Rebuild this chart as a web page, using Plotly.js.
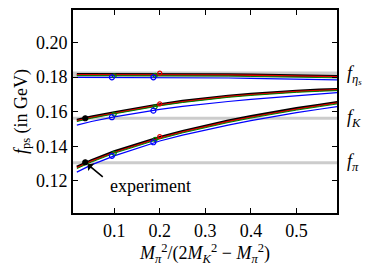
<!DOCTYPE html>
<html><head><meta charset="utf-8">
<script src="https://cdn.plot.ly/plotly-3.0.1.min.js"></script>
<style>html,body{margin:0;padding:0;background:#fff}#chart{width:373px;height:268px}</style>
</head><body><div id="chart"></div>
<script>
// x grid of the fitted curves
const xCurve = [0.018, 0.05, 0.1, 0.15, 0.2, 0.25, 0.3, 0.35, 0.4, 0.45, 0.5, 0.55, 0.59];

// f_pi curves
const piBlack = [0.1280, 0.1318, 0.1369, 0.1412, 0.1452, 0.1487, 0.1518, 0.1547, 0.1573, 0.1597, 0.1619, 0.1639, 0.1655];
const piRed   = [0.1276, 0.1314, 0.1365, 0.1408, 0.1448, 0.1483, 0.1514, 0.1543, 0.1569, 0.1593, 0.1615, 0.1635, 0.1651];
const piGreen = [0.1270, 0.1308, 0.1359, 0.1402, 0.1442, 0.1477, 0.1508, 0.1537, 0.1563, 0.1587, 0.1609, 0.1629, 0.1645];
const piBlue  = [0.1250, 0.1292, 0.1344, 0.1388, 0.1430, 0.1464, 0.1494, 0.1522, 0.1548, 0.1572, 0.1594, 0.1614, 0.1630];

// f_K curves
const kBlack = [0.1551, 0.1570, 0.1595, 0.1620, 0.1642, 0.1661, 0.1677, 0.1691, 0.1702, 0.1712, 0.1720, 0.1726, 0.1730];
const kRed   = [0.1548, 0.1567, 0.1592, 0.1617, 0.1639, 0.1658, 0.1674, 0.1688, 0.1699, 0.1709, 0.1717, 0.1723, 0.1727];
const kGreen = [0.1543, 0.1562, 0.1587, 0.1612, 0.1634, 0.1653, 0.1669, 0.1683, 0.1694, 0.1704, 0.1712, 0.1718, 0.1722];
const kBlue  = [0.1522, 0.1543, 0.1570, 0.1593, 0.1613, 0.1631, 0.1646, 0.1659, 0.1671, 0.1682, 0.1692, 0.1702, 0.1710];

// f_eta_s curves
const eBlack = [0.1817, 0.1817, 0.1818, 0.1818, 0.1818, 0.1817, 0.1816, 0.1815, 0.1813, 0.1811, 0.1809, 0.1807, 0.1805];
const eRed   = [0.1815, 0.1815, 0.1816, 0.1816, 0.1816, 0.1815, 0.1814, 0.1813, 0.1811, 0.1809, 0.1807, 0.1805, 0.1803];
const eGreen = [0.1809, 0.1809, 0.1809, 0.1809, 0.1809, 0.1808, 0.1807, 0.1806, 0.1804, 0.1802, 0.1800, 0.1798, 0.1796];
const eBlue  = [0.1799, 0.1799, 0.1799, 0.1799, 0.1799, 0.1798, 0.1797, 0.1795, 0.1793, 0.1791, 0.1788, 0.1786, 0.1784];

// lattice data points
const xBluePts  = [0.095, 0.186];
const piBluePts = [0.1344, 0.1423];
const kBluePts  = [0.1568, 0.1606];
const eBluePts  = [0.1799, 0.1799];
const xGreenPts  = [0.1, 0.19];
const piGreenPts = [0.1358, 0.1440];
const kGreenPts  = [0.1585, 0.1628];
const eGreenPts  = [0.1808, 0.1810];
const xRedPts  = [0.2];
const piRedPts = [0.1456];
const kRedPts  = [0.1645];
const eRedPts  = [0.1823];

// experiment
const xExp = [0.0365, 0.0365];
const yExp = [0.1307, 0.1562];

// physical values (grey bands) and labels
const bandValues = [0.1304, 0.1562, 0.1815];
const bandLabels = ['<i>f</i><sub><i>π</i></sub>', '<i>f</i><sub><i>K</i></sub>', '<i>f</i><sub><i>η<sub>s</sub></i></sub>'];
const bandWidths = [3, 3, 6];

const xTicks = [0.1, 0.2, 0.3, 0.4, 0.5];
const yTicks = [0.12, 0.14, 0.16, 0.18, 0.20];

const traces = [];
function curve(y, color, w) {
  traces.push({x: xCurve, y: y, mode: 'lines', line: {color: color, width: w}, hoverinfo: 'skip', showlegend: false});
}
[[piBlack, piRed, piGreen, piBlue], [kBlack, kRed, kGreen, kBlue], [eBlack, eRed, eGreen, eBlue]].forEach(g => {
  curve(g[0], '#000000', 2.6);
  curve(g[1], '#e00000', 1.3);
  curve(g[2], '#008000', 1.0);
  curve(g[3], '#0000ff', 1.2);
});
function pts(x, y, color, sym, size) {
  traces.push({x: x, y: y, mode: 'markers', marker: {color: color, symbol: sym, size: size, line: {color: color, width: 1.2}}, showlegend: false});
}
[piGreenPts, kGreenPts, eGreenPts].forEach(y => pts(xGreenPts, y, '#008000', 'circle-open', 4));
[piRedPts, kRedPts, eRedPts].forEach(y => pts(xRedPts, y, '#e00000', 'circle-open', 4));
[piBluePts, kBluePts, eBluePts].forEach(y => pts(xBluePts, y, '#0000ff', 'circle-open', 5));
pts(xExp, yExp, '#000000', 'circle', 5);

const shapes = bandValues.map((v, i) => ({
  type: 'line', xref: 'paper', x0: 0, x1: 1, yref: 'y', y0: v, y1: v,
  line: {color: '#cccccc', width: bandWidths[i]}, layer: 'below'
}));

const serif = 'Liberation Serif, Times New Roman, serif';
const mathFont = {family: serif, size: 18, color: '#000'};
const annotations = bandValues.map((v, i) => ({
  xref: 'paper', x: 1, xanchor: 'left', xshift: 8, yref: 'y', y: v, yanchor: 'middle',
  text: bandLabels[i], showarrow: false, font: mathFont
}));
annotations.push({
  xref: 'x', yref: 'y', x: 0.087, y: 0.1171, xanchor: 'left', yanchor: 'middle',
  text: 'experiment', showarrow: false, font: {family: serif, size: 18, color: '#000'}
});
annotations.push({
  xref: 'x', yref: 'y', x: xExp[0], y: yExp[0], text: '', showarrow: true,
  ax: 19, ay: 16, arrowhead: 1, arrowsize: 1, arrowwidth: 1.6, arrowcolor: '#000', standoff: 3
});

const tickFont = {family: serif, size: 18, color: '#000'};
const layout = {
  width: 373, height: 268,
  margin: {l: 73, r: 36, t: 10, b: 55, pad: 0},
  paper_bgcolor: '#fff', plot_bgcolor: '#fff',
  showlegend: false,
  xaxis: {
    range: [0.0096, 0.589], tickvals: xTicks, ticktext: xTicks.map(v => v.toFixed(1)),
    ticks: 'inside', ticklen: 5, tickwidth: 1, tickcolor: '#000',
    showline: true, linecolor: '#000', linewidth: 2, mirror: 'ticks',
    showgrid: false, zeroline: false, tickfont: tickFont,
    title: {text: '<i>M</i><sub><i>π</i></sub><sup>2</sup>/(2<i>M</i><sub><i>K</i></sub><sup>2</sup> − <i>M</i><sub><i>π</i></sub><sup>2</sup>)', font: mathFont, standoff: 2}
  },
  yaxis: {
    range: [0.1013, 0.2189], tickvals: yTicks, ticktext: yTicks.map(v => v.toFixed(2)),
    ticks: 'inside', ticklen: 5, tickwidth: 1, tickcolor: '#000',
    showline: true, linecolor: '#000', linewidth: 2, mirror: 'ticks',
    showgrid: false, zeroline: false, tickfont: tickFont,
    title: {text: '<i>f</i><sub>ps</sub> (in GeV)', font: {family: serif, size: 18, color: '#000'}, standoff: 4}
  },
  shapes: shapes,
  annotations: annotations
};
Plotly.newPlot('chart', traces, layout, {displayModeBar: false, staticPlot: true});
</script>
</body></html>
